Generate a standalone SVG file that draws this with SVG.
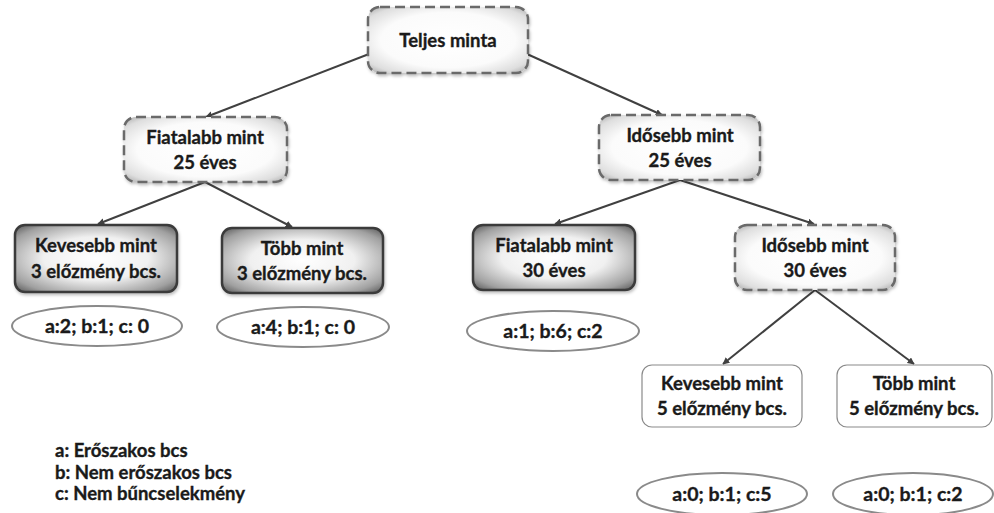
<svg xmlns="http://www.w3.org/2000/svg" width="994" height="513" viewBox="0 0 994 513">
  <defs>
    <radialGradient id="softFill" cx="50%" cy="50%" r="70%">
      <stop offset="0" stop-color="#ffffff"/>
      <stop offset="0.6" stop-color="#fbfbfb"/>
      <stop offset="0.85" stop-color="#dedede"/>
      <stop offset="1" stop-color="#a8a8a8"/>
    </radialGradient>
    <radialGradient id="darkFill" cx="50%" cy="50%" r="72%">
      <stop offset="0" stop-color="#ffffff"/>
      <stop offset="0.45" stop-color="#f0f0f0"/>
      <stop offset="0.8" stop-color="#a0a0a0"/>
      <stop offset="1" stop-color="#4a4a4a"/>
    </radialGradient>
    <marker id="arrow" viewBox="0 0 10 10" refX="9" refY="5" markerWidth="7" markerHeight="7" orient="auto-start-reverse" markerUnits="userSpaceOnUse">
      <path d="M0,0 L10,5 L0,10 z" fill="#404040"/>
    </marker>
    <filter id="shadow" x="-10%" y="-10%" width="120%" height="130%">
      <feDropShadow dx="1" dy="2" stdDeviation="1.5" flood-color="#000" flood-opacity="0.25"/>
    </filter>
  </defs>
  <style>
    text { font-family: Lato, "Open Sans", "Liberation Sans", sans-serif; font-weight: bold; fill: #1a1a1a; stroke: #1a1a1a; stroke-width: 0.35; text-anchor: middle; }
    .lbl { font-size: 18.5px; }
    .cnt { font-size: 19.5px; }
    .leg { font-size: 18.5px; text-anchor: start; }
    .soft { fill: url(#softFill); stroke: #6a6a6a; stroke-width: 2.5; stroke-dasharray: 10 5; filter: url(#shadow); }
    .dark { fill: url(#darkFill); stroke: #3a3a3a; stroke-width: 2.5; filter: url(#shadow); }
    .plain { fill: #ffffff; stroke: #8a8a8a; stroke-width: 1.2; }
    .oval { fill: #ffffff; stroke: #8a8a8a; stroke-width: 2; }
    .edge { stroke: #404040; stroke-width: 2; fill: none; marker-end: url(#arrow); }
  </style>

  <!-- connectors -->
  <g id="connectors">
    <line class="edge" x1="369" y1="54" x2="206" y2="117"/>
    <line class="edge" x1="527" y1="54" x2="662" y2="115"/>
    <line class="edge" x1="205" y1="182" x2="98" y2="224"/>
    <line class="edge" x1="205" y1="182" x2="292" y2="227"/>
    <line class="edge" x1="680" y1="180" x2="555" y2="224"/>
    <line class="edge" x1="680" y1="180" x2="814" y2="224"/>
    <line class="edge" x1="815" y1="290" x2="723" y2="364"/>
    <line class="edge" x1="815" y1="290" x2="914" y2="364"/>
  </g>

  <!-- nodes -->
  <g id="teljes">
    <rect class="soft" x="368" y="7" width="160" height="66" rx="12"/>
    <text class="lbl" x="448" y="47">Teljes minta</text>
  </g>
  <g id="fiatal25">
    <rect class="soft" x="124" y="117" width="163" height="65" rx="12"/>
    <text class="lbl" x="205" y="144">Fiatalabb mint</text>
    <text class="lbl" x="205" y="169">25 éves</text>
  </g>
  <g id="idos25">
    <rect class="soft" x="599" y="115" width="161" height="65" rx="12"/>
    <text class="lbl" x="680" y="142">Idősebb mint</text>
    <text class="lbl" x="680" y="167">25 éves</text>
  </g>
  <g id="keves3">
    <rect class="dark" x="15" y="225" width="162" height="67" rx="10"/>
    <text class="lbl" x="96" y="252">Kevesebb mint</text>
    <text class="lbl" x="96" y="278">3 előzmény bcs.</text>
  </g>
  <g id="tobb3">
    <rect class="dark" x="222" y="228" width="161" height="65" rx="10"/>
    <text class="lbl" x="302" y="255">Több mint</text>
    <text class="lbl" x="302" y="280">3 előzmény bcs.</text>
  </g>
  <g id="fiatal30">
    <rect class="dark" x="473" y="225" width="162" height="65" rx="10"/>
    <text class="lbl" x="554" y="252">Fiatalabb mint</text>
    <text class="lbl" x="554" y="277">30 éves</text>
  </g>
  <g id="idos30">
    <rect class="soft" x="735" y="225" width="160" height="65" rx="12"/>
    <text class="lbl" x="815" y="252">Idősebb mint</text>
    <text class="lbl" x="815" y="277">30 éves</text>
  </g>
  <g id="keves5">
    <rect class="plain" x="642" y="365" width="160" height="62" rx="10"/>
    <text class="lbl" x="722" y="390">Kevesebb mint</text>
    <text class="lbl" x="722" y="415">5 előzmény bcs.</text>
  </g>
  <g id="tobb5">
    <rect class="plain" x="837" y="365" width="155" height="62" rx="10"/>
    <text class="lbl" x="914" y="390">Több mint</text>
    <text class="lbl" x="914" y="415">5 előzmény bcs.</text>
  </g>

  <!-- outcome counts -->
  <g id="cnt-keves3">
    <ellipse class="oval" cx="97" cy="326" rx="85" ry="20"/>
    <text class="cnt" x="97" y="333">a:2; b:1; c: 0</text>
  </g>
  <g id="cnt-tobb3">
    <ellipse class="oval" cx="303" cy="327" rx="86" ry="20"/>
    <text class="cnt" x="303" y="334">a:4; b:1; c: 0</text>
  </g>
  <g id="cnt-fiatal30">
    <ellipse class="oval" cx="553" cy="331" rx="86" ry="20"/>
    <text class="cnt" x="553" y="338">a:1; b:6; c:2</text>
  </g>
  <g id="cnt-keves5">
    <ellipse class="oval" cx="722" cy="494" rx="85" ry="21"/>
    <text class="cnt" x="722" y="501">a:0; b:1; c:5</text>
  </g>
  <g id="cnt-tobb5">
    <ellipse class="oval" cx="913" cy="494" rx="80" ry="21"/>
    <text class="cnt" x="913" y="501">a:0; b:1; c:2</text>
  </g>

  <!-- legend -->
  <g id="legend">
    <text class="leg" x="55" y="457">a: Erőszakos bcs</text>
    <text class="leg" x="55" y="479">b: Nem erőszakos bcs</text>
    <text class="leg" x="55" y="500">c: Nem bűncselekmény</text>
  </g>
</svg>
